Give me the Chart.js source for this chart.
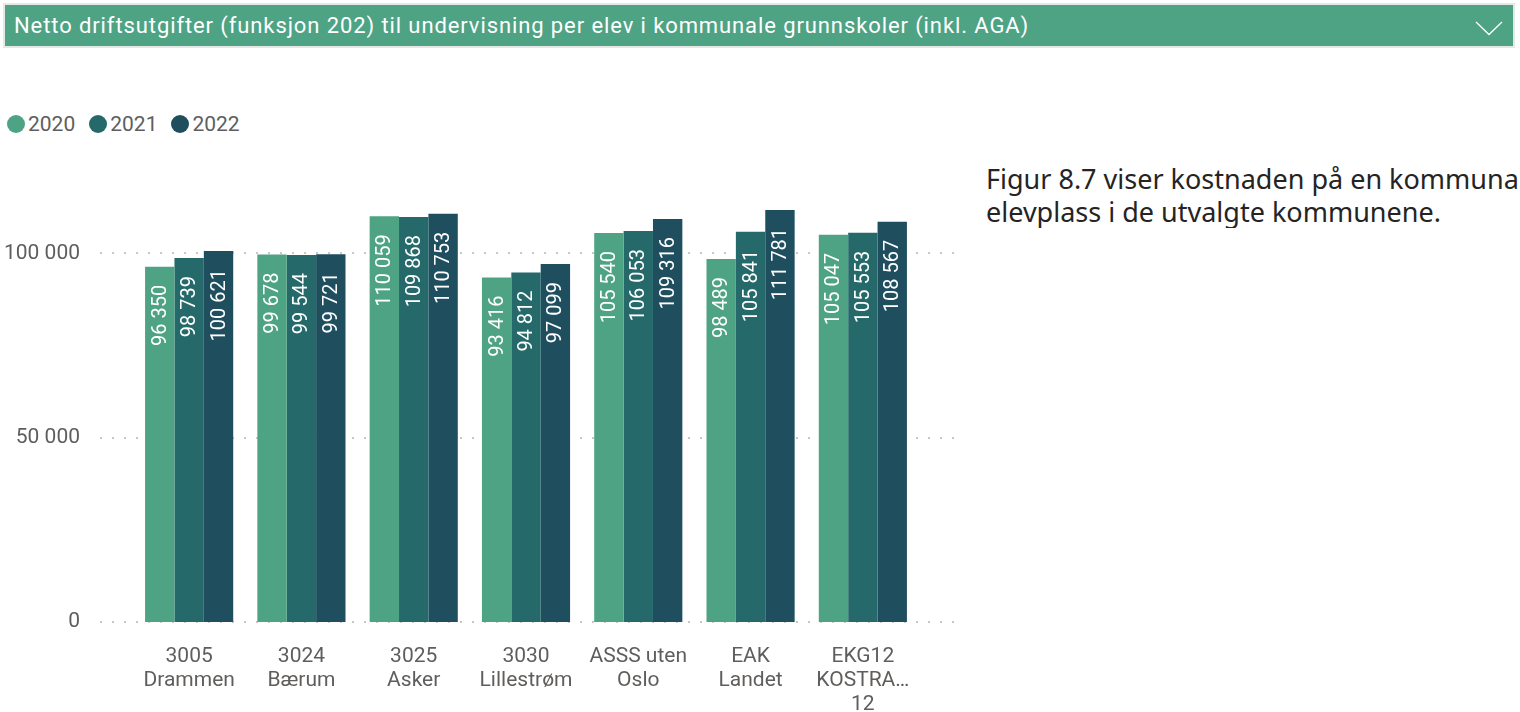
<!DOCTYPE html>
<html>
<head>
<meta charset="utf-8">
<script src="https://cdn.jsdelivr.net/npm/chart.js@4.4.1/dist/chart.umd.min.js"></script>
<style>
  body { margin: 0; width: 1520px; height: 712px; background: #fff; overflow: hidden; position: relative; font-family: Roboto, sans-serif; }
  .header {
    position: absolute; left: 3px; top: 3px; width: 1512px; height: 45px;
    background: #4ea384; border: 2px solid #e4e8e6; box-sizing: border-box;
    color: #fff; font-size: 22px; letter-spacing: 0.9px; line-height: 41px; padding-left: 9px;
  }
  .header svg { position: absolute; right: 10px; top: 16px; }
  .legend { position: absolute; left: 7px; top: 112px; display: flex; font-size: 21px; color: #605e5c; }
  .legend span { display: flex; align-items: center; margin-right: 14px; }
  .legend i { width: 18px; height: 18px; border-radius: 50%; display: inline-block; margin-right: 3px; }
  .note {
    position: absolute; left: 986px; top: 162px; width: 534px; overflow: hidden; white-space: nowrap;
    font-family: "Noto Sans", sans-serif; font-size: 27px; line-height: 33px; color: #252423;
  }
  #wrap { position: absolute; left: 0; top: 114px; width: 960px; height: 599px; }
</style>
</head>
<body>
<div class="header">Netto driftsutgifter (funksjon 202) til undervisning per elev i kommunale grunnskoler (inkl. AGA)
  <svg width="28" height="15" viewBox="0 0 28 15"><polyline points="1,1 14,13.5 27,1" fill="none" stroke="#fff" stroke-width="1.3"/></svg>
</div>
<div class="legend" id="legend"></div>
<div class="note">Figur 8.7 viser kostnaden på en kommunal<br>elevplass i de utvalgte kommunene.</div>
<div id="wrap"><canvas id="chart"></canvas></div>
<script>
const categories = [
  ["3005", "Drammen"],
  ["3024", "Bærum"],
  ["3025", "Asker"],
  ["3030", "Lillestrøm"],
  ["ASSS uten", "Oslo"],
  ["EAK", "Landet"],
  ["EKG12", "KOSTRA…", "12"]
];
const years = ["2020", "2021", "2022"];
const values2020 = [96350, 99678, 110059, 93416, 105540, 98489, 105047];
const values2021 = [98739, 99544, 109868, 94812, 106053, 105841, 105553];
const values2022 = [100621, 99721, 110753, 97099, 109316, 111781, 108567];
const colors = ["#4ea384", "#25696b", "#1f4e5f"];
const yTicks = [0, 50000, 100000];

const fmt = v => String(v).replace(/\B(?=(\d{3})+(?!\d))/g, " ");

// legend
const legendEl = document.getElementById("legend");
years.forEach((y, i) => {
  const s = document.createElement("span");
  s.innerHTML = `<i style="background:${colors[i]}"></i>${y}`;
  legendEl.appendChild(s);
});

// dotted gridlines, a bit wider than the plot area
const dottedGrid = {
  id: "dottedGrid",
  beforeDatasetsDraw(chart) {
    const ctx = chart.ctx;
    const ys = chart.scales.y;
    ctx.save();
    ctx.strokeStyle = "#c8c8c8";
    ctx.lineWidth = 2;
    ctx.setLineDash([2, 10]);
    ys.ticks.forEach(t => {
      const y = Math.round(ys.getPixelForValue(t.value));
      ctx.beginPath();
      ctx.moveTo(100, y);
      ctx.lineTo(956, y);
      ctx.stroke();
    });
    ctx.restore();
  }
};

// vertical value labels inside the bars
const barLabels = {
  id: "barLabels",
  afterDatasetsDraw(chart) {
    const ctx = chart.ctx;
    ctx.save();
    ctx.fillStyle = "#ffffff";
    ctx.font = "20px Roboto";
    ctx.textAlign = "right";
    ctx.textBaseline = "middle";
    chart.data.datasets.forEach((ds, i) => {
      chart.getDatasetMeta(i).data.forEach((bar, j) => {
        ctx.save();
        ctx.translate(bar.x + 1, bar.y + 18);
        ctx.rotate(-Math.PI / 2);
        ctx.fillText(fmt(ds.data[j]), 0, 0);
        ctx.restore();
      });
    });
    ctx.restore();
  }
};

new Chart(document.getElementById("chart"), {
  type: "bar",
  data: {
    labels: categories,
    datasets: [values2020, values2021, values2022].map((d, i) => ({
      label: years[i],
      data: d,
      backgroundColor: colors[i],
      borderWidth: 0,
      categoryPercentage: 0.785,
      barPercentage: 1.0
    }))
  },
  options: {
    responsive: true,
    maintainAspectRatio: false,
    animation: false,
    layout: { padding: { top: 27, right: 41, left: 0, bottom: 0 } },
    plugins: {
      legend: { display: false },
      tooltip: { enabled: false }
    },
    scales: {
      x: {
        grid: { display: false, drawTicks: false },
        border: { display: false },
        ticks: {
          color: "#605e5c",
          font: { family: "Roboto", size: 21, lineHeight: "24px" },
          padding: 23,
          maxRotation: 0,
          autoSkip: false
        },
        afterFit(scale) { scale.height = 91; }
      },
      y: {
        min: 0,
        max: 120000,
        grid: { display: false, drawTicks: false },
        border: { display: false },
        ticks: {
          stepSize: 50000,
          color: "#605e5c",
          font: { family: "Roboto", size: 21 },
          padding: 53,
          callback: v => fmt(v)
        },
        afterBuildTicks(scale) {
          scale.ticks = yTicks.map(v => ({ value: v }));
        },
        afterFit(scale) { scale.width = 133; }
      }
    }
  },
  plugins: [dottedGrid, barLabels]
});
</script>
</body>
</html>
